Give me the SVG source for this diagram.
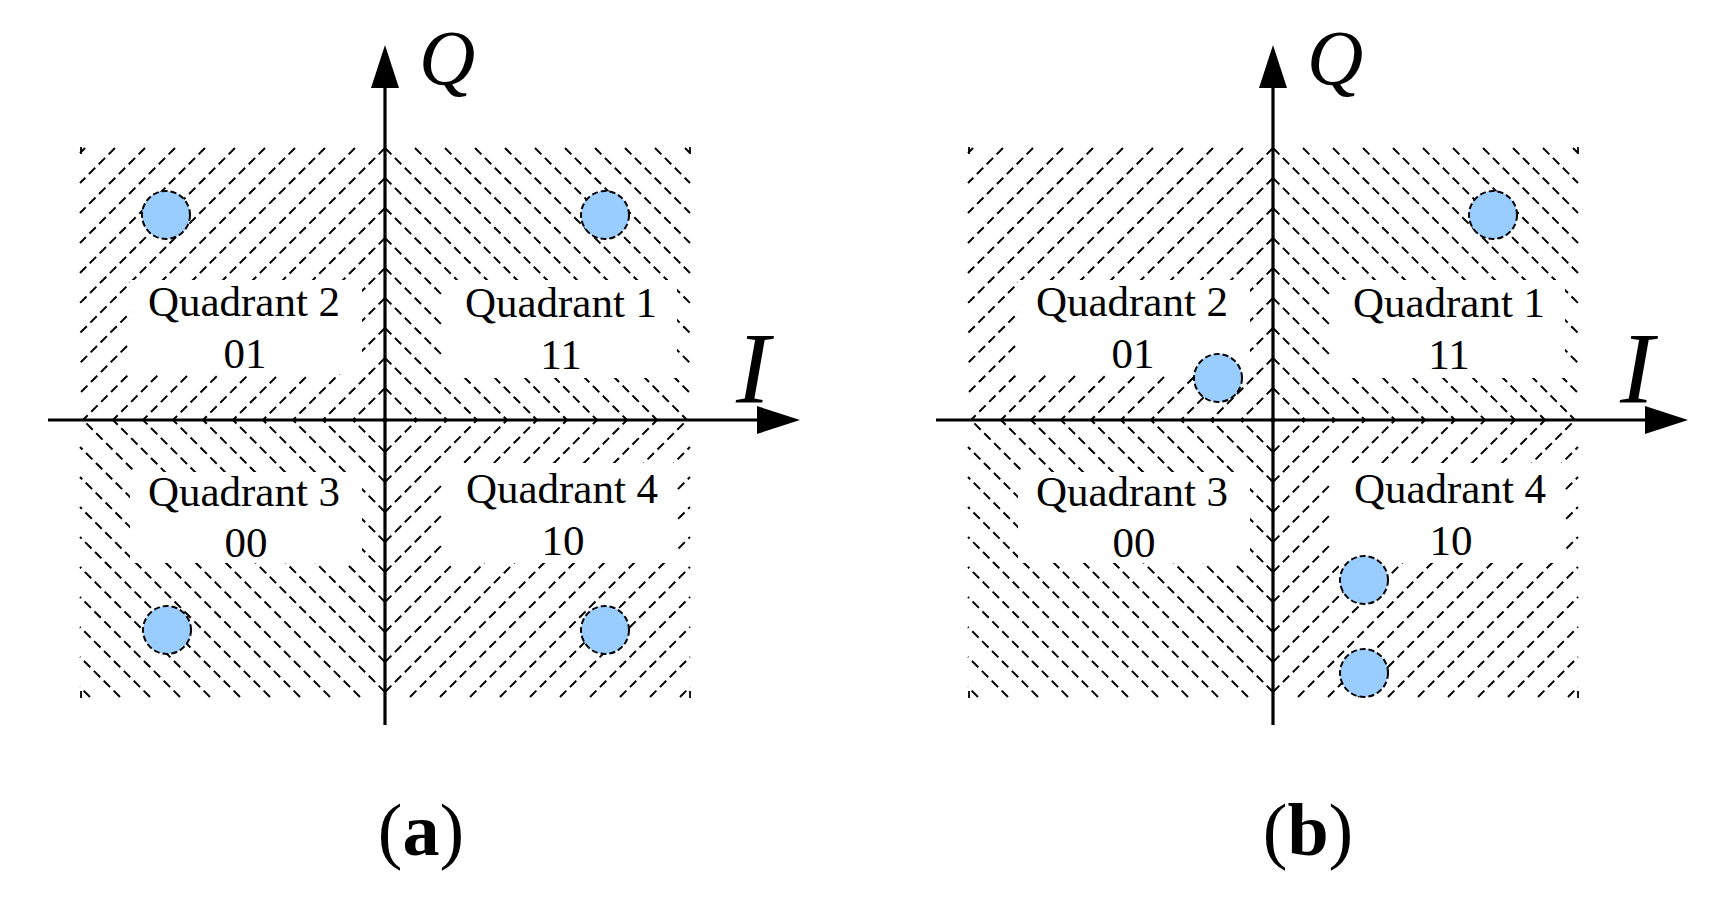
<svg xmlns="http://www.w3.org/2000/svg" xmlns:xlink="http://www.w3.org/1999/xlink" width="1716" height="905" viewBox="0 0 1716 905">
<style>
.hatch{fill:none;stroke:#000;stroke-width:2;stroke-dasharray:9 5}
.tick{fill:none;stroke:#000;stroke-width:1.8}
.axis{fill:none;stroke:#000;stroke-width:3.2}
.pt{fill:#99CCFF;stroke:#000;stroke-width:2;stroke-dasharray:6 3}
.box{fill:#fff}
.ql{font-family:"Liberation Serif","Times New Roman",serif;font-size:43px;text-anchor:middle;fill:#000}
.ax{font-family:"Liberation Serif","Times New Roman",serif;font-style:italic;fill:#000}
.cap{font-family:"Liberation Serif","Times New Roman",serif;font-size:74px;text-anchor:middle;fill:#000}
</style>
<defs>
<marker id="arrow" viewBox="0 0 43 28" refX="0" refY="14" markerWidth="43" markerHeight="28" markerUnits="userSpaceOnUse" orient="auto">
<path d="M0,0 L43,14 L0,28 Z" fill="#000"/>
</marker>
<g id="hatch">
<path class="hatch" d="M385,418L387,420M385,388L417,420M385,358L447,420M385,328L477,420M385,298L507,420M385,268L537,420M385,238L567,420M385,208L597,420M385,178L627,420M385,148L657,420M415,148L687,420M445,148L690,393M475,148L690,363M505,148L690,333M535,148L690,303M565,148L690,273M595,148L690,243M625,148L690,213M655,148L690,183M685,148L690,153"/>
<path class="hatch" d="M385,418L383,420M385,388L353,420M385,358L323,420M385,328L293,420M385,298L263,420M385,268L233,420M385,238L203,420M385,208L173,420M385,178L143,420M385,148L113,420M355,148L83,420M325,148L80,393M295,148L80,363M265,148L80,333M235,148L80,303M205,148L80,273M175,148L80,243M145,148L80,213M115,148L80,183M85,148L80,153"/>
<path class="hatch" d="M385,422L383,420M385,452L353,420M385,482L323,420M385,512L293,420M385,542L263,420M385,572L233,420M385,602L203,420M385,632L173,420M385,662L143,420M385,692L113,420M360,697L83,420M330,697L80,447M300,697L80,477M270,697L80,507M240,697L80,537M210,697L80,567M180,697L80,597M150,697L80,627M120,697L80,657M90,697L80,687"/>
<path class="hatch" d="M385,422L387,420M385,452L417,420M385,482L447,420M385,512L477,420M385,542L507,420M385,572L537,420M385,602L567,420M385,632L597,420M385,662L627,420M385,692L657,420M410,697L687,420M440,697L690,447M470,697L690,477M500,697L690,507M530,697L690,537M560,697L690,567M590,697L690,597M620,697L690,627M650,697L690,657M680,697L690,687"/>
<path class="tick" d="M81,147V154M690,147V154M81,691V698M690,691V698"/>
<rect class="box" x="443" y="280" width="234" height="98"/>
<rect class="box" x="130" y="280" width="232" height="94"/>
<rect class="box" x="130" y="472" width="232" height="91"/>
<rect class="box" x="443" y="463" width="234" height="100"/>
</g>
</defs>
<rect width="1716" height="905" fill="#fff"/>

<g id="panel-a">
<use href="#hatch" xlink:href="#hatch"/>
<g id="axes-a">
<line class="axis" x1="385" y1="725" x2="385" y2="88" marker-end="url(#arrow)"/>
<line class="axis" x1="48" y1="420" x2="757" y2="420" marker-end="url(#arrow)"/>
</g>
<g id="axis-label-Q-a"><text class="ax" x="419" y="84" font-size="78">Q</text></g>
<g id="axis-label-I-a"><text class="ax" x="736" y="403" font-size="102">I</text></g>
<g id="q1-a"><text class="ql" x="561" y="317">Quadrant 1</text><text class="ql" x="561" y="369">11</text></g>
<g id="q2-a"><text class="ql" x="244" y="316">Quadrant 2</text><text class="ql" x="245" y="368">01</text></g>
<g id="q3-a"><text class="ql" x="244" y="506">Quadrant 3</text><text class="ql" x="246" y="557">00</text></g>
<g id="q4-a"><text class="ql" x="562" y="503">Quadrant 4</text><text class="ql" x="563" y="555">10</text></g>
<g id="pt-a1"><circle class="pt" cx="605" cy="215" r="24"/></g>
<g id="pt-a2"><circle class="pt" cx="166" cy="215" r="24"/></g>
<g id="pt-a3"><circle class="pt" cx="167" cy="630" r="24"/></g>
<g id="pt-a4"><circle class="pt" cx="605" cy="630" r="24"/></g>
<g id="caption-a"><text class="cap" x="421" y="855">(<tspan font-weight="bold">a</tspan>)</text></g>
</g>

<g id="panel-b">
<use href="#hatch" xlink:href="#hatch" x="888"/>
<g id="axes-b">
<line class="axis" x1="1273" y1="725" x2="1273" y2="88" marker-end="url(#arrow)"/>
<line class="axis" x1="936" y1="420" x2="1645" y2="420" marker-end="url(#arrow)"/>
</g>
<g id="axis-label-Q-b"><text class="ax" x="1307" y="84" font-size="78">Q</text></g>
<g id="axis-label-I-b"><text class="ax" x="1620" y="403" font-size="102">I</text></g>
<g id="q1-b"><text class="ql" x="1449" y="317">Quadrant 1</text><text class="ql" x="1449" y="369">11</text></g>
<g id="q2-b"><text class="ql" x="1132" y="316">Quadrant 2</text><text class="ql" x="1133" y="368">01</text></g>
<g id="q3-b"><text class="ql" x="1132" y="506">Quadrant 3</text><text class="ql" x="1134" y="557">00</text></g>
<g id="q4-b"><text class="ql" x="1450" y="503">Quadrant 4</text><text class="ql" x="1451" y="555">10</text></g>
<g id="pt-b1"><circle class="pt" cx="1493" cy="215" r="24"/></g>
<g id="pt-b2"><circle class="pt" cx="1218" cy="378" r="24"/></g>
<g id="pt-b3"><circle class="pt" cx="1364" cy="580" r="24"/></g>
<g id="pt-b4"><circle class="pt" cx="1364" cy="673" r="24"/></g>
<g id="caption-b"><text class="cap" x="1308" y="855">(<tspan font-weight="bold">b</tspan>)</text></g>
</g>
</svg>
